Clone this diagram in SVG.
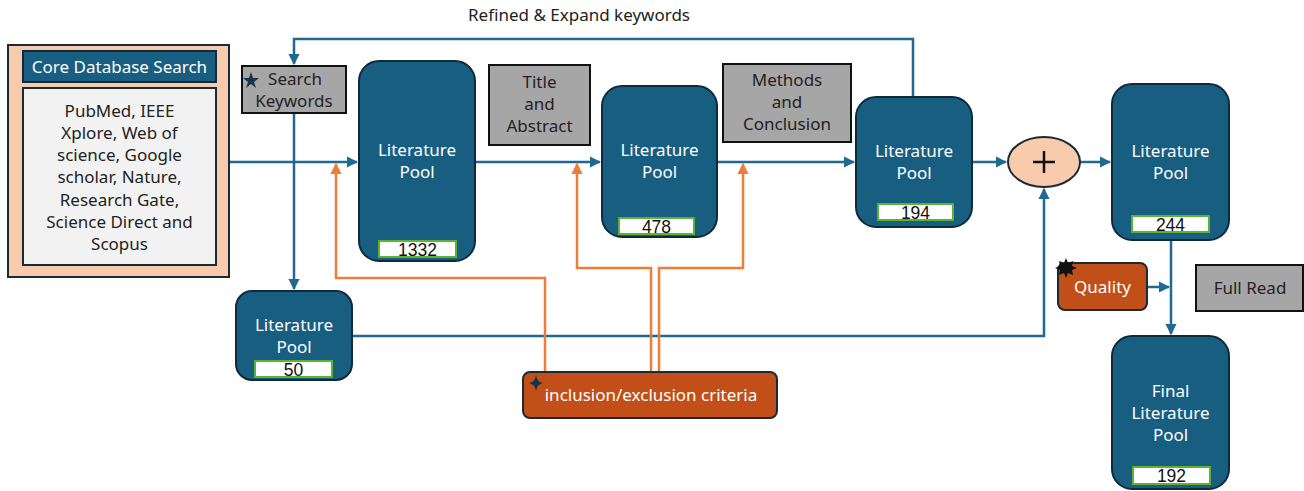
<svg xmlns="http://www.w3.org/2000/svg" width="1304" height="491" viewBox="0 0 1304 491">
<style>
text{font-family:"Noto Sans","Liberation Sans",Arial,sans-serif;font-size:17px;text-anchor:middle;}
.pool{fill:#175E81;stroke:#0E2B3B;stroke-width:2;}
.pt{fill:#ffffff;font-size:17px;}
.num{fill:#ffffff;stroke:#5DB135;stroke-width:2;}
.nt{fill:#111;font-family:"Liberation Sans",Arial,sans-serif;font-size:17.5px;}
.gray{fill:#A6A6A6;stroke:#111;stroke-width:2;}
.gt{fill:#222;font-size:17px;}
.orb{fill:#C14F17;stroke:#1A2B36;stroke-width:2;}
.ot{fill:#ffffff;font-size:17px;}
.bl{fill:none;stroke:#1F6A91;stroke-width:2.5;}
.or{fill:none;stroke:#EE7D3A;stroke-width:2.5;}
</style>
<defs>
<marker id="ab" viewBox="0 0 10 10" refX="9" refY="5" markerWidth="4.5" markerHeight="4.5" orient="auto"><path d="M0,0 L10,5 L0,10 z" fill="#1F6A91"/></marker>
<marker id="ao" viewBox="0 0 10 10" refX="9" refY="5" markerWidth="4.5" markerHeight="4.5" orient="auto"><path d="M0,0 L10,5 L0,10 z" fill="#EE7D3A"/></marker>
</defs>
<rect width="1304" height="491" fill="#ffffff"/>

<g id="connectors">
<path class="bl" d="M913,97 V39 H294 V64" marker-end="url(#ab)"/>
<path class="bl" d="M294,113 V289" marker-end="url(#ab)"/>
<path class="bl" d="M229,162 H357" marker-end="url(#ab)"/>
<path class="bl" d="M475,162 H600" marker-end="url(#ab)"/>
<path class="bl" d="M717,162 H854" marker-end="url(#ab)"/>
<path class="bl" d="M972,162 H1006" marker-end="url(#ab)"/>
<path class="bl" d="M1080,162 H1110" marker-end="url(#ab)"/>
<path class="bl" d="M352,336 H1044 V189" marker-end="url(#ab)"/>
<path class="bl" d="M1171,240 V334" marker-end="url(#ab)"/>
<path class="bl" d="M1147,287 H1169" marker-end="url(#ab)"/>
<path class="or" d="M545,372 V278 H336 V164" marker-end="url(#ao)"/>
<path class="or" d="M651,372 V268 H577 V164" marker-end="url(#ao)"/>
<path class="or" d="M659,372 V268 H743 V164" marker-end="url(#ao)"/>
<text x="579" y="21" fill="#222">Refined &amp; Expand keywords</text>
</g>

<g id="core-db">
<rect x="8" y="45" width="221" height="232" fill="#F8CBAD" stroke="#1A2B36" stroke-width="2"/>
<rect x="23" y="51" width="193" height="31" fill="#175E81" stroke="#0E2B3B" stroke-width="2"/>
<text x="119.5" y="72.5" fill="#fff" font-size="15.6">Core Database Search</text>
<rect x="23" y="88" width="193" height="177" fill="#F2F2F2" stroke="#1A2B36" stroke-width="2"/>
<text fill="#222" font-size="17"><tspan x="119.5" y="117">PubMed, IEEE</tspan><tspan x="119.5" y="139">Xplore, Web of</tspan><tspan x="119.5" y="161">science, Google</tspan><tspan x="119.5" y="183">scholar, Nature,</tspan><tspan x="119.5" y="206">Research Gate,</tspan><tspan x="119.5" y="228">Science Direct and</tspan><tspan x="119.5" y="250">Scopus</tspan></text>
</g>

<g id="search-keywords">
<rect class="gray" x="242" y="66" width="104" height="47"/>
<path d="M251,72 L253,78 L259,78 L254,82 L256,88 L251,84 L246,88 L248,82 L243,78 L249,78 z" fill="#14344A"/>
<text class="gt"><tspan x="295" y="85">Search</tspan><tspan x="294" y="107">Keywords</tspan></text>
</g>

<g id="pool-1332">
<rect class="pool" x="359" y="61" width="116" height="200" rx="20"/>
<text class="pt"><tspan x="417" y="156">Literature</tspan><tspan x="417" y="178">Pool</tspan></text>
<rect class="num" x="379" y="241" width="77" height="16"/>
<text class="nt" x="417.5" y="256">1332</text>
</g>

<g id="title-abstract">
<rect class="gray" x="489" y="65" width="101" height="80"/>
<text class="gt"><tspan x="539.5" y="88">Title</tspan><tspan x="539.5" y="110">and</tspan><tspan x="539.5" y="132">Abstract</tspan></text>
</g>

<g id="pool-478">
<rect class="pool" x="602" y="86" width="115" height="151" rx="20"/>
<text class="pt"><tspan x="659.5" y="156">Literature</tspan><tspan x="659.5" y="178">Pool</tspan></text>
<rect class="num" x="619" y="218" width="75" height="16"/>
<text class="nt" x="656.5" y="233">478</text>
</g>

<g id="methods-conclusion">
<rect class="gray" x="723" y="64" width="128" height="78"/>
<text class="gt"><tspan x="787" y="86">Methods</tspan><tspan x="787" y="108">and</tspan><tspan x="787" y="130">Conclusion</tspan></text>
</g>

<g id="pool-194">
<rect class="pool" x="856" y="97" width="116" height="130" rx="20"/>
<text class="pt"><tspan x="914" y="157">Literature</tspan><tspan x="914" y="179">Pool</tspan></text>
<rect class="num" x="878" y="204" width="75" height="16"/>
<text class="nt" x="915.5" y="219">194</text>
</g>

<g id="merge">
<ellipse cx="1044" cy="162" rx="36" ry="25" fill="#F8CBAD" stroke="#1A2B36" stroke-width="2"/>
<path d="M1044,151 V173 M1033,162 H1055" stroke="#111" stroke-width="2.5"/>
</g>

<g id="pool-244">
<rect class="pool" x="1112" y="84" width="117" height="156" rx="20"/>
<text class="pt"><tspan x="1170.5" y="157">Literature</tspan><tspan x="1170.5" y="179">Pool</tspan></text>
<rect class="num" x="1132" y="216" width="77" height="16"/>
<text class="nt" x="1170.5" y="231">244</text>
</g>

<g id="quality">
<rect class="orb" x="1058" y="263" width="89" height="47" rx="7"/>
<path d="M1066,258 L1068,263 L1073,261 L1072,266 L1077,268 L1072,270 L1073,275 L1068,273 L1066,278 L1064,273 L1059,275 L1060,270 L1055,268 L1060,266 L1059,261 L1064,263 z" fill="#111"/>
<text class="ot" x="1102.5" y="293">Quality</text>
</g>

<g id="full-read">
<rect class="gray" x="1196" y="265" width="107" height="46"/>
<text class="gt" x="1250" y="294">Full Read</text>
</g>

<g id="final-pool">
<rect class="pool" x="1112" y="336" width="117" height="153" rx="20"/>
<text class="pt"><tspan x="1170.5" y="397">Final</tspan><tspan x="1170.5" y="419">Literature</tspan><tspan x="1170.5" y="441">Pool</tspan></text>
<rect class="num" x="1133" y="467" width="77" height="17"/>
<text class="nt" x="1171.5" y="482">192</text>
</g>

<g id="pool-50">
<rect class="pool" x="236" y="291" width="116" height="89" rx="16"/>
<text class="pt"><tspan x="294" y="331">Literature</tspan><tspan x="294" y="353">Pool</tspan></text>
<rect class="num" x="255" y="361" width="77" height="16"/>
<text class="nt" x="293.5" y="376">50</text>
</g>

<g id="criteria">
<rect class="orb" x="523" y="372" width="254" height="46" rx="7"/>
<path d="M536,375 Q537,382 543,383 Q537,384 536,391 Q535,384 529,383 Q535,382 536,375 z" fill="#14344A"/>
<text class="ot" x="651" y="401">inclusion/exclusion criteria</text>
</g>
</svg>
